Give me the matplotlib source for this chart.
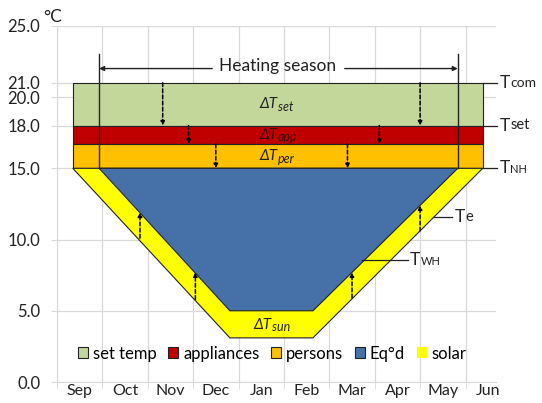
import matplotlib
matplotlib.use('Agg')
import matplotlib.pyplot as plt

# months on the x axis (one category per month)
months = ['Sep', 'Oct', 'Nov', 'Dec', 'Jan', 'Feb', 'Mar', 'Apr', 'May', 'Jun']
yticks = [0, 5, 10, 15, 18, 20, 21, 25]

# temperature levels (°C)
t_com = 21.0
t_set = 18.0
t_app = 16.7
t_nh = 15.0

# extent of the gain bands (in month units)
band_x = [0.35, 9.38]

# outdoor temperature Te and temperature without heating TWH
te_x = [0.35, 3.81, 5.64, 9.38]
te_y = [15.0, 3.1, 3.1, 15.0]
twh_x = [0.93, 3.81, 5.64, 8.83]
twh_y = [15.0, 5.0, 5.0, 15.0]

season_start = 0.93
season_end = 8.83

set_arrows_x = [2.33, 8.0]
app_arrows_x = [2.9, 7.1]
per_arrows_x = [3.5, 6.4]
sun_arrows_x = [1.83, 3.05, 6.5, 8.0]
sun_arrows_lo = [10.1, 5.8, 5.9, 10.6]
sun_arrows_hi = [11.9, 7.7, 7.7, 12.4]

c_green = '#c4d79b'
c_red = '#c00000'
c_orange = '#ffc000'
c_blue = '#4571a8'
c_yellow = '#ffff00'
grid_c = '#d9d9d9'

plt.rcParams['font.family'] = ['Lato', 'DejaVu Sans']

fig = plt.figure(figsize=(5.42, 4.03), dpi=100)
ax = fig.add_axes([0.105, 0.052, 0.81, 0.884])
ax.set_xlim(0, 9.67)
ax.set_ylim(0, 25)
ax.set_axisbelow(True)

edge = dict(edgecolor='#222222', linewidth=0.8)
ax.fill_between(band_x, t_set, t_com, facecolor=c_green, label='set temp', zorder=2, **edge)
ax.fill_between(band_x, t_app, t_set, facecolor=c_red, label='appliances', zorder=2, **edge)
ax.fill_between(band_x, t_nh, t_app, facecolor=c_orange, label='persons', zorder=2, **edge)
ax.fill(te_x, te_y, facecolor=c_yellow, zorder=2, **edge)
ax.fill(twh_x, twh_y, facecolor=c_blue, label='Eq°d', zorder=3, **edge)
# legend order: solar after Eq°d
ax.fill([], [], facecolor=c_yellow, label='solar')

# heating season markers
for xs in (season_start, season_end):
    ax.plot([xs, xs], [23.0, t_nh], color='#222222', lw=1.0, zorder=5)
ax.text(4.85, 22.2, 'Heating season', ha='center', va='center', fontsize=12.5, color='#222222')
arr = dict(arrowstyle='-|>', color='#222222', lw=1.0, mutation_scale=7, shrinkA=0, shrinkB=0)
ax.annotate('', xy=(season_start, 22.0), xytext=(3.42, 22.0), arrowprops=arr)
ax.annotate('', xy=(season_end, 22.0), xytext=(6.34, 22.0), arrowprops=arr)

# dashed arrows showing each contribution
darr = dict(arrowstyle='-|>', color='black', lw=1.1, linestyle=(0, (2.5, 1.5)),
            mutation_scale=6, shrinkA=0, shrinkB=0)
for xa in set_arrows_x:
    ax.annotate('', xy=(xa, t_set), xytext=(xa, t_com), arrowprops=darr, zorder=6)
for xa in app_arrows_x:
    ax.annotate('', xy=(xa, t_app), xytext=(xa, t_set), arrowprops=darr, zorder=6)
for xa in per_arrows_x:
    ax.annotate('', xy=(xa, t_nh), xytext=(xa, t_app), arrowprops=darr, zorder=6)
for xa, lo, hi in zip(sun_arrows_x, sun_arrows_lo, sun_arrows_hi):
    ax.annotate('', xy=(xa, hi), xytext=(xa, lo), arrowprops=darr, zorder=6)


def sub_text(x, y, main, sub, size, subsize, italic=False, ha='left', color='#222222'):
    style = 'italic' if italic else 'normal'
    t = ax.text(x, y, main, ha=ha, va='center', fontsize=size, style=style,
                color=color, zorder=7, clip_on=False)
    ax.annotate(sub, xy=(1, 0), xycoords=t, xytext=(0, 1 if not italic else -1),
                textcoords='offset points', ha='left', va='bottom', fontsize=subsize,
                style=style, color=color, zorder=7, annotation_clip=False)


# delta T labels
sub_text(4.87, 19.5, 'ΔT', 'set', 11, 9, italic=True, ha='right')
sub_text(4.87, 17.35, 'ΔT', 'app', 11, 9, italic=True, ha='right', color='#400000')
sub_text(4.87, 15.85, 'ΔT', 'per', 11, 9, italic=True, ha='right')
sub_text(4.74, 4.0, 'ΔT', 'sun', 11, 9, italic=True, ha='right')

# right side labels with leader lines
lead = dict(color='#222222', lw=0.9, clip_on=False, zorder=6)
for yl in (t_com, t_set, t_nh):
    ax.plot([band_x[1], 9.7], [yl, yl], **lead)
sub_text(9.76, t_com, 'T', 'com', 12.5, 10)
sub_text(9.76, t_set, 'T', 'set', 12.5, 10.5)
sub_text(9.76, t_nh, 'T', 'NH', 12.5, 8)
ax.plot([8.28, 8.70], [11.56, 11.56], **lead)
sub_text(8.77, 11.56, 'T', 'e', 12.5, 10.5)
ax.plot([6.72, 7.73], [8.57, 8.57], **lead)
sub_text(7.78, 8.57, 'T', 'WH', 12.5, 8)

# axes styling
ax.set_yticks(yticks)
ax.set_yticklabels([f'{v:.1f}' for v in yticks])
ax.set_xticks([i + 0.5 for i in range(len(months))])
ax.set_xticklabels(months)
ax.set_xticks(range(len(months)), minor=True)
ax.tick_params(axis='x', which='major', length=0, pad=1.5, labelsize=11.5, labelcolor='#222222')
ax.tick_params(axis='x', which='minor', length=5, color=grid_c)
ax.tick_params(axis='y', length=4, color=grid_c, pad=8, labelsize=12, labelcolor='#222222')
ax.grid(axis='y', color=grid_c, lw=0.9)
ax.grid(axis='x', which='minor', color=grid_c, lw=0.9)
for s in ('top', 'right'):
    ax.spines[s].set_visible(False)
for s in ('left', 'bottom'):
    ax.spines[s].set_color(grid_c)
ax.text(-0.01, 1.025, '°C', transform=ax.transAxes, fontsize=12.5, ha='center', va='center',
        color='#222222')

ax.legend(loc='center', bbox_to_anchor=(0.49, 0.08), ncol=5, frameon=False,
          handlelength=0.6, handleheight=0.6, handletextpad=0.3, columnspacing=0.7,
          fontsize=12, borderaxespad=0)

fig.savefig('out.png', dpi=100)
